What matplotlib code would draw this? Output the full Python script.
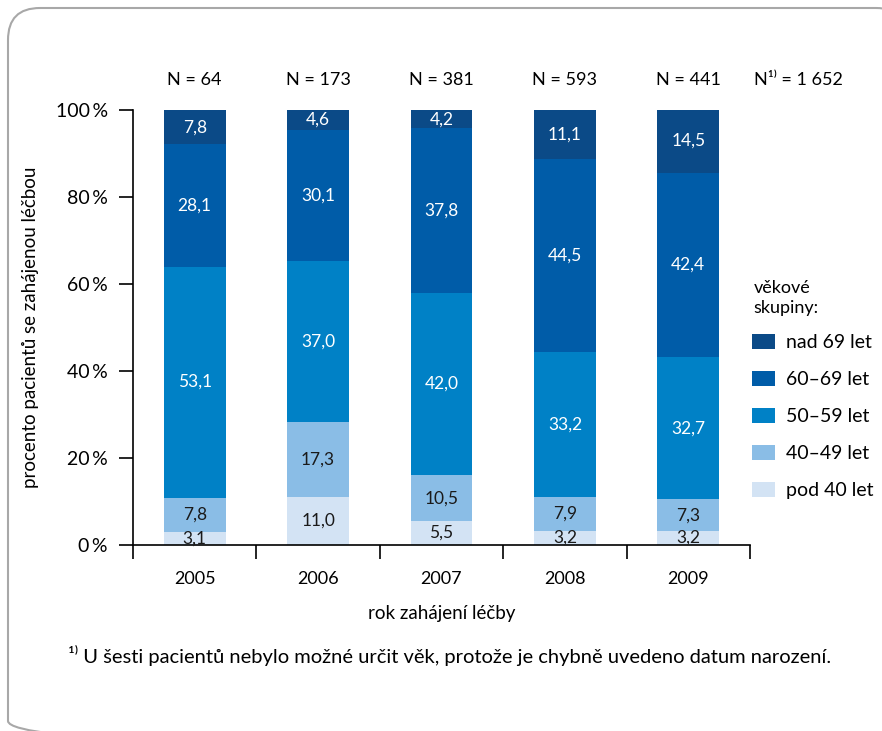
import numpy as np
import matplotlib.pyplot as plt
from matplotlib.patches import FancyBboxPatch, Patch

plt.rcParams['font.family'] = ['Lato', 'DejaVu Sans']
plt.rcParams['font.size'] = 13

years = ['2005', '2006', '2007', '2008', '2009']
counts = ['N = 64', 'N = 173', 'N = 381', 'N = 593', 'N = 441']
groups = ['pod 40 let', '40–49 let', '50–59 let', '60–69 let', 'nad 69 let']
pod40 = [3.1, 11.0, 5.5, 3.2, 3.2]
let40_49 = [7.8, 17.3, 10.5, 7.9, 7.3]
let50_59 = [53.1, 37.0, 42.0, 33.2, 32.7]
let60_69 = [28.1, 30.1, 37.8, 44.5, 42.4]
nad69 = [7.8, 4.6, 4.2, 11.1, 14.5]

series = [pod40, let40_49, let50_59, let60_69, nad69]
colors = ['#d3e3f4', '#8abde6', '#0081c6', '#005ca8', '#0b4a87']
text_colors = ['#1a1a1a', '#1a1a1a', 'white', 'white', 'white']

fig = plt.figure(figsize=(8.82, 7.31), dpi=100)

# background layer in pixel units for the rounded frame
bg = fig.add_axes([0, 0, 1, 1], zorder=-1)
bg.set_xlim(0, 882)
bg.set_ylim(731, 0)
bg.axis('off')
bg.add_patch(FancyBboxPatch((8, 8), 900, 745, boxstyle='round,pad=0,rounding_size=32',
                            fill=False, edgecolor='#a8a8a8', linewidth=1.5))

ax = fig.add_axes([133 / 882, 1 - 545 / 731, 617 / 882, 435 / 731])

x = np.arange(len(years))
bottom = np.zeros(len(years))
for vals, col, tcol in zip(series, colors, text_colors):
    vals = np.array(vals)
    ax.bar(x, vals, width=0.5, bottom=bottom, color=col, edgecolor='none')
    for xi, b, v in zip(x, bottom, vals):
        ax.text(xi, b + v / 2, f'{v:.1f}'.replace('.', ','), ha='center', va='center',
                color=tcol, fontsize=12.5)
    bottom += vals

ax.set_xlim(-0.5, 4.5)
ax.set_ylim(0, 100)
ax.set_yticks([0, 20, 40, 60, 80, 100])
ax.set_yticklabels([f'{v}\u2009%' for v in [0, 20, 40, 60, 80, 100]], fontsize=14)
ax.set_xticks(x)
ax.set_xticklabels(years)
ax.set_xticks(np.arange(-0.5, 5, 1), minor=True)
ax.tick_params(axis='x', which='major', length=0, pad=19)
ax.tick_params(axis='x', which='minor', length=10, width=1.2, direction='out')
ax.tick_params(axis='y', length=10, width=1.2, pad=8)
for s in ['top', 'right']:
    ax.spines[s].set_visible(False)
for s in ['left', 'bottom']:
    ax.spines[s].set_linewidth(1.2)

ax.set_xlabel('rok zahájení léčby', labelpad=13, fontsize=13.5)
ax.set_ylabel('procento pacientů se zahájenou léčbou', labelpad=12, fontsize=13.5)

# sample sizes above the bars
for xi, n in zip(x, counts):
    ax.text(xi, 107, n, ha='center', va='center', clip_on=False)
ax.text(4.53, 107, 'N¹⁾ = 1 652', ha='left', va='center')

# legend block on the right
ax.text(4.53, 56.8, 'věkové\nskupiny:', ha='left', va='center', linespacing=1.25)
handles = [Patch(facecolor=c, edgecolor='none') for c in colors[::-1]]
fig.legend(handles, groups[::-1], loc='upper left', bbox_to_anchor=(752 / 882, 1 - 334 / 731),
           frameon=False, handlelength=1.2, handleheight=0.8, handletextpad=0.55,
           labelspacing=1.02, borderpad=0, borderaxespad=0, fontsize=14)

fig.text(68 / 882, 1 - 655 / 731,
         '¹⁾ U šesti pacientů nebylo možné určit věk, protože je chybně uvedeno datum narození.',
         ha='left', va='center', fontsize=14.5)

fig.savefig('out.png', dpi=100)
